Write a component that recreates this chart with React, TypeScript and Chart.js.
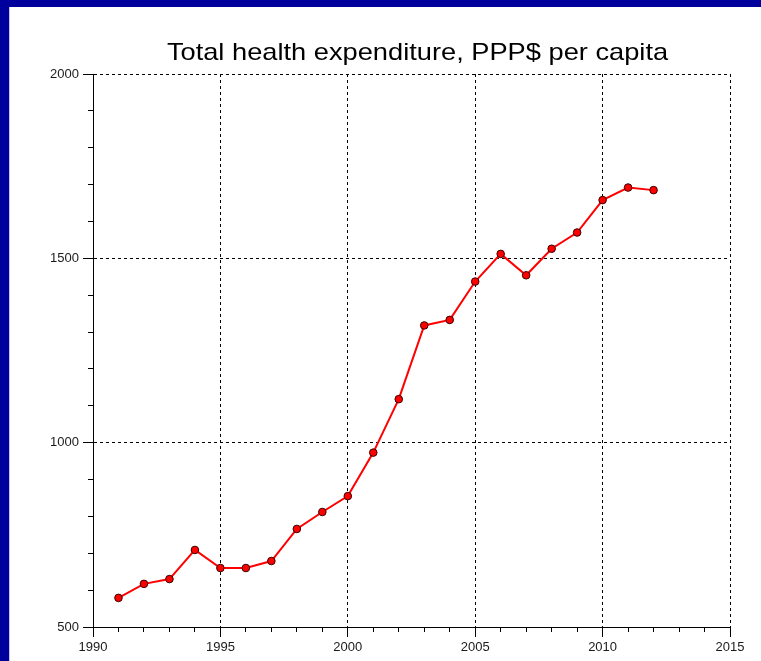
import React, { useEffect, useRef } from 'react';
import { Chart, registerables } from 'chart.js';

Chart.register(...registerables);

const titleText = 'Total health expenditure, PPP$ per capita';
const years = [1991, 1992, 1993, 1994, 1995, 1996, 1997, 1998, 1999, 2000, 2001, 2002, 2003, 2004, 2005, 2006, 2007, 2008, 2009, 2010, 2011, 2012];
const spending = [579, 617, 630, 709, 660, 660, 679, 766, 812, 855, 973, 1118, 1318, 1333, 1437, 1512, 1454, 1526, 1570, 1658, 1692, 1685];
const xMin = 1990;
const xMax = 2015;
const xMajorStep = 5;
const xMinorStep = 1;
const yMin = 500;
const yMax = 2000;
const yMajorStep = 500;
const yMinorStep = 100;

const tickFont = { family: "'Liberation Sans', Arial, sans-serif", size: 13 };
const tickColor = '#1a1a1a';

const framePlugin = {
  id: 'frame',
  beforeDraw(chart: any) {
    const { ctx, width, height } = chart;
    ctx.save();
    ctx.fillStyle = '#ffffff';
    ctx.fillRect(0, 0, width, height);
    ctx.fillStyle = '#00009c';
    ctx.fillRect(0, 0, 9, height);
    ctx.fillRect(0, 0, width, 7);
    ctx.fillStyle = '#c4c4ee';
    ctx.fillRect(9, 7, 1, height - 7);
    ctx.restore();
  },
};

const titlePlugin = {
  id: 'stretchedTitle',
  afterDraw(chart: any) {
    const { ctx, chartArea } = chart;
    ctx.save();
    ctx.font = "24px 'Liberation Sans', Arial, sans-serif";
    ctx.fillStyle = '#000000';
    ctx.textAlign = 'center';
    ctx.textBaseline = 'alphabetic';
    ctx.translate((chartArea.left + chartArea.right) / 2 + 6, chartArea.top - 14);
    ctx.scale(1.135, 1);
    ctx.fillText(titleText, 0, 0);
    ctx.restore();
  },
};

export default function App() {
  const ref = useRef<HTMLCanvasElement>(null);

  useEffect(() => {
    if (!ref.current) return;
    const chart = new Chart(ref.current, {
      type: 'line',
      data: {
        datasets: [
          {
            data: years.map((yr, i) => ({ x: yr, y: spending[i] })),
            borderColor: '#ff0000',
            borderWidth: 2,
            pointRadius: 3.8,
            pointBackgroundColor: '#ff0000',
            pointBorderColor: '#3a0000',
            pointBorderWidth: 1,
            tension: 0,
            xAxisID: 'x',
            yAxisID: 'y',
          },
        ],
      },
      options: {
        responsive: false,
        animation: false,
        devicePixelRatio: 1,
        layout: { padding: { left: 0, right: 31, top: 74, bottom: 0 } },
        plugins: {
          legend: { display: false },
          tooltip: { enabled: false },
          title: { display: false },
        },
        scales: {
          x: {
            type: 'linear',
            position: 'bottom',
            weight: 1,
            min: xMin,
            max: xMax,
            ticks: {
              stepSize: xMajorStep,
              callback: (v: any) => String(v),
              font: tickFont,
              color: tickColor,
              padding: 3,
              maxRotation: 0,
            },
            grid: { color: '#000000', lineWidth: 1, tickLength: 10, tickColor: '#000000' },
            border: { color: '#000000', width: 1, dash: [3, 3] },
            afterFit: (s: any) => {
              s.height = 34;
            },
          },
          xMinor: {
            type: 'linear',
            position: 'bottom',
            weight: 0,
            min: xMin,
            max: xMax,
            ticks: { stepSize: xMinorStep, display: false },
            grid: { drawOnChartArea: false, tickLength: 5, tickColor: '#000000', lineWidth: 1 },
            border: { display: false },
            afterFit: (s: any) => {
              s.height = 0;
            },
          },
          y: {
            type: 'linear',
            position: 'left',
            weight: 1,
            min: yMin,
            max: yMax,
            ticks: {
              stepSize: yMajorStep,
              callback: (v: any) => String(v),
              font: tickFont,
              color: tickColor,
              padding: 4,
            },
            grid: { color: '#000000', lineWidth: 1, tickLength: 10, tickColor: '#000000' },
            border: { color: '#000000', width: 1, dash: [3, 3] },
            afterFit: (s: any) => {
              s.width = 93;
            },
          },
          yMinor: {
            type: 'linear',
            position: 'left',
            weight: 0,
            min: yMin,
            max: yMax,
            ticks: { stepSize: yMinorStep, display: false },
            grid: { drawOnChartArea: false, tickLength: 5, tickColor: '#000000', lineWidth: 1 },
            border: { display: false },
            afterFit: (s: any) => {
              s.width = 0;
            },
          },
        },
      },
      plugins: [framePlugin, titlePlugin],
    } as any);
    return () => chart.destroy();
  }, []);

  return (
    <div style={{ position: 'absolute', left: 0, top: 0, width: 761, height: 661 }}>
      <canvas ref={ref} width={761} height={661} style={{ display: 'block' }} />
    </div>
  );
}
